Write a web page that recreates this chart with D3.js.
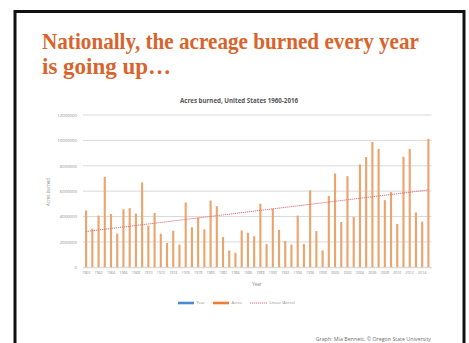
<!DOCTYPE html>
<html>
<head>
<meta charset="utf-8">
<script src="https://cdn.jsdelivr.net/npm/d3@7"></script>
<style>
  html, body { margin: 0; padding: 0; background: #fff; }
  svg { display: block; }
</style>
</head>
<body>
<div id="chart"></div>
<script>
// acres burned per year (1960 .. 2015)
const years = d3.range(1960, 2016);
const acres = [
  4478000, 3036000, 4079000, 7121000, 4197000, 2652000, 4574000, 4659000, 4232000, 6689000,
  3279000, 4278000, 2641000, 1915000, 2879000, 1791000, 5110000, 3153000, 3911000, 2987000,
  5261000, 4814000, 2382000, 1324000, 1148000, 2896000, 2719000, 2447000, 5009000, 1827000,
  4622000, 2954000, 2070000, 1798000, 4074000, 1841000, 6066000, 2857000, 1330000, 5626000,
  7393000, 3571000, 7185000, 3961000, 8098000, 8689000, 9874000, 9328000, 5292000, 5922000,
  3423000, 8711000, 9326000, 4320000, 3596000, 10125000
];
const yTicks = [0, 2000000, 4000000, 6000000, 8000000, 10000000, 12000000];
const xTickYears = years.filter((y, i) => i % 2 === 0);
const legendItems = ['Year', 'Acres', 'Linear (Acres)'];

const width = 469;
const height = 343;

const svg = d3.select('#chart').append('svg').attr('width', width).attr('height', height);

// slide frame
svg.append('rect')
  .attr('x', 15).attr('y', 11.5)
  .attr('width', 449).attr('height', 345)
  .attr('fill', '#fff')
  .attr('stroke', '#111')
  .attr('stroke-width', 3);

// slide title
const titleLines = ['Nationally, the acreage burned every year', 'is going up\u2026'];
const titleWidths = [377, null];
titleLines.forEach((t, i) => {
  const txt = svg.append('text')
    .attr('x', 42)
    .attr('y', 49 + i * 25)
    .attr('fill', '#d8642c')
    .style('font-family', '"Liberation Serif", "DejaVu Serif", serif')
    .style('font-weight', 'bold')
    .style('font-size', '23px')
    .text(t);
  if (titleWidths[i]) txt.attr('textLength', titleWidths[i]).attr('lengthAdjust', 'spacingAndGlyphs');
});
// second line scaled the same way as the first
{
  const first = svg.selectAll('text').nodes()[0];
  const second = svg.selectAll('text').nodes()[1];
  const ratio = 377 / first.getComputedTextLength();
  second.setAttribute('textLength', second.getComputedTextLength() * ratio);
  second.setAttribute('lengthAdjust', 'spacingAndGlyphs');
}

const font = '"Open Sans", "DejaVu Sans", sans-serif';

// chart title
svg.append('text')
  .attr('x', 239).attr('y', 103)
  .attr('text-anchor', 'middle')
  .attr('fill', '#555')
  .style('font-family', font)
  .style('font-weight', 'bold')
  .style('font-size', '6.2px')
  .text('Acres burned, United States 1960-2016');

const xScale = d3.scaleBand()
  .domain(years)
  .range([83, 431.5])
  .paddingInner(0.66)
  .paddingOuter(0.33);

const yScale = d3.scaleLinear()
  .domain([0, 12000000])
  .range([267.3, 115]);

// gridlines
svg.append('g')
  .selectAll('line')
  .data(yTicks)
  .enter()
  .append('line')
  .attr('x1', 83).attr('x2', 431.5)
  .attr('y1', (d) => yScale(d)).attr('y2', (d) => yScale(d))
  .attr('stroke', '#d9d9d9')
  .attr('stroke-width', 1);

// y axis labels
const yAxis = d3.axisLeft(yScale).tickValues(yTicks).tickSize(0).tickPadding(5).tickFormat(d3.format('d'));
svg.append('g')
  .attr('transform', 'translate(82,0)')
  .call(yAxis)
  .call((g) => g.select('.domain').remove())
  .call((g) => g.selectAll('text').attr('fill', '#8a8a8a').style('font-family', font).style('font-size', '4.3px'));

// bars
svg.append('g')
  .selectAll('rect')
  .data(acres)
  .enter()
  .append('rect')
  .attr('x', (d, i) => xScale(years[i]))
  .attr('y', (d) => yScale(d))
  .attr('width', xScale.bandwidth())
  .attr('height', (d) => yScale(0) - yScale(d))
  .attr('fill', '#eba46c');

// linear trend (least squares on the bar values)
const n = acres.length;
const mx = d3.mean(d3.range(n));
const my = d3.mean(acres);
const slope = d3.sum(acres, (d, i) => (i - mx) * (d - my)) / d3.sum(d3.range(n), (i) => (i - mx) ** 2);
const icpt = my - slope * mx;
const cx = (i) => xScale(years[i]) + xScale.bandwidth() / 2;
svg.append('line')
  .attr('x1', cx(0)).attr('y1', yScale(icpt))
  .attr('x2', cx(n - 1)).attr('y2', yScale(icpt + slope * (n - 1)))
  .attr('stroke', '#e0707a')
  .attr('stroke-width', 1)
  .attr('stroke-dasharray', '1.2,0.8');

// x axis labels
const xAxis = d3.axisBottom(xScale).tickValues(xTickYears).tickSize(0).tickPadding(4);
svg.append('g')
  .attr('transform', 'translate(0,267.3)')
  .call(xAxis)
  .call((g) => g.select('.domain').attr('stroke', '#d9d9d9'))
  .call((g) => g.selectAll('text').attr('fill', '#8a8a8a').style('font-family', font).style('font-size', '3.6px'));

// axis titles
svg.append('text')
  .attr('x', 257).attr('y', 285.5)
  .attr('text-anchor', 'middle')
  .attr('fill', '#8a8a8a')
  .style('font-family', font)
  .style('font-size', '4.5px')
  .text('Year');

svg.append('text')
  .attr('transform', 'translate(50,192) rotate(-90)')
  .attr('text-anchor', 'middle')
  .attr('fill', '#8a8a8a')
  .style('font-family', font)
  .style('font-size', '4.5px')
  .text('Acres burned');

// legend
const legendX = [178, 213, 250];
const legendColors = ['#4a8ad4', '#ee7d31', '#e0707a'];
legendItems.forEach((name, i) => {
  const g = svg.append('g').attr('transform', 'translate(' + legendX[i] + ',303)');
  if (i < 2) {
    g.append('rect').attr('x', 0).attr('y', -1.3).attr('width', 16).attr('height', 2.6).attr('fill', legendColors[i]);
  } else {
    g.append('line').attr('x1', 0).attr('x2', 17).attr('y1', 0).attr('y2', 0)
      .attr('stroke', legendColors[i]).attr('stroke-width', 1).attr('stroke-dasharray', '1.2,0.8');
  }
  g.append('text')
    .attr('x', i < 2 ? 18.5 : 19.5).attr('y', 1.4)
    .attr('fill', '#8a8a8a')
    .style('font-family', font)
    .style('font-size', '4px')
    .text(name);
});

// source
svg.append('text')
  .attr('x', 431).attr('y', 341)
  .attr('text-anchor', 'end')
  .attr('fill', '#6f6f6f')
  .style('font-family', font)
  .style('font-size', '5.3px')
  .text('Graph: Mia Bennett, \u00a9 Oregon State University');
</script>
</body>
</html>
